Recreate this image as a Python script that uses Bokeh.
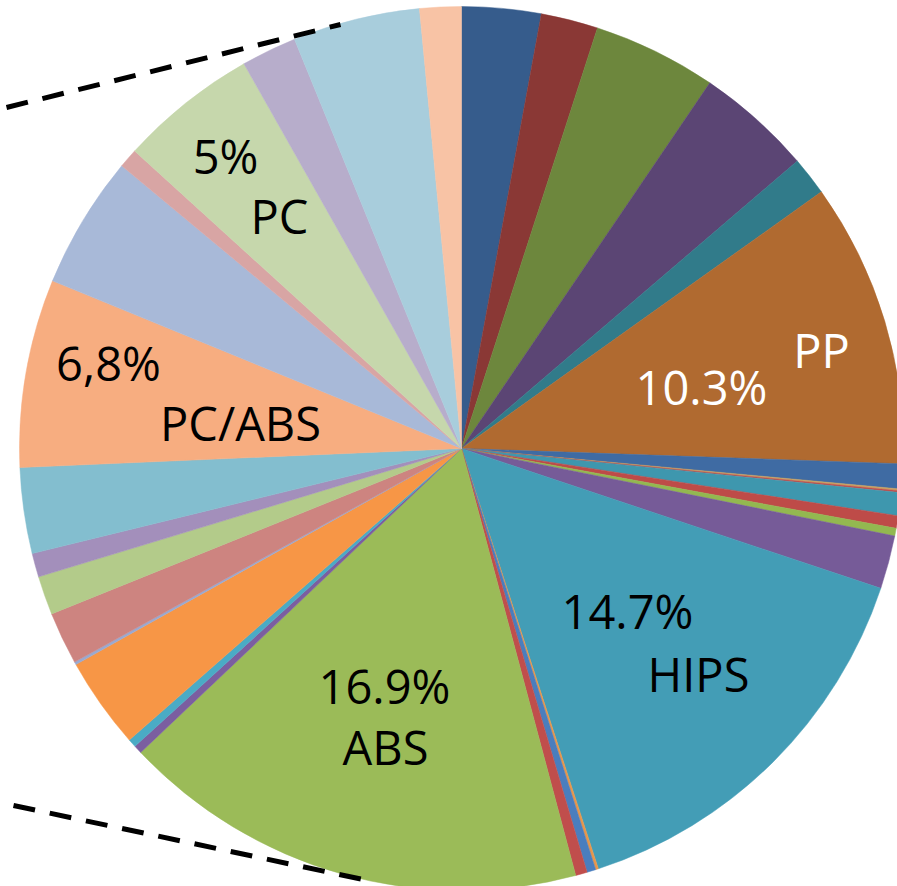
import numpy as np
from bokeh.plotting import figure
from bokeh.models import Range1d, ColumnDataSource
from bokeh.core.properties import value
from bokeh.embed import file_html
from bokeh.resources import INLINE

# ---- data (percent shares, clockwise from 12 o'clock) ----
names = ["s1", "s2", "s3", "s4", "s5", "PP", "s7", "s8", "s9", "s10", "s11", "s12",
         "s13", "HIPS", "s15", "s16", "s17", "ABS", "s19", "s20", "s21", "s22",
         "s23", "s24", "s25", "s26", "PC/ABS", "s28", "s29", "PC", "s31", "s32", "s33"]
shares = [2.86, 2.06, 4.47, 4.19, 1.39, 10.3, 0.9, 0.07, 0.06, 0.83, 0.45, 0.28,
          1.93, 14.7, 0.1, 0.32, 0.42, 16.9, 0.3, 0.3, 3.3, 0.1,
          1.9, 1.4, 0.86, 3.1, 6.8, 4.8, 0.7, 5.0, 2.0, 4.6, 1.5]
colors = ["#365C8C", "#8A3835", "#6D873D", "#5B4574", "#317B8A", "#B06A30",
          "#3F6BA3", "#C8A060", "#BF4F4C", "#3E97AE", "#BE4B48", "#93B850",
          "#765B98", "#439DB6", "#E8964B", "#4A7EBE", "#C04E4C", "#9BBB58",
          "#7B5EA0", "#4AABC5", "#F79646", "#9AA9D0", "#CD8480", "#B3CB8A",
          "#A38FBB", "#83BECF", "#F7AD80", "#A8B9D8", "#D8A5A4", "#C6D7AC",
          "#B7ADCB", "#A8CDDC", "#F8C3A5"]

# labels: (text, colour)
label_texts = ["10.3%", "PP", "14.7%", "HIPS", "16.9%", "ABS", "6,8%", "PC/ABS", "5%", "PC"]
label_colors = ["white", "white", "black", "black", "black", "black", "black", "black", "black", "black"]

# ---- layout (image pixel coordinates, label = cap-height centre) ----
W, H = 897, 886
CX, CY, R = 461, 448, 442
label_pos = [(701, 386), (821, 349), (627, 610), (698, 673), (384, 685),
             (385, 746), (108, 362), (240, 422), (225, 155), (279, 215)]
dash_top = [(6, 107), (340, 24)]
dash_bottom = [(13, 805), (372, 881)]


def fy(y):
    return H - y


total = float(sum(shares))
frac = np.array(shares) / total
cum_end = np.cumsum(frac)
cum_start = cum_end - frac
start_angle = np.pi / 2 - cum_end * 2 * np.pi
end_angle = np.pi / 2 - cum_start * 2 * np.pi

src = ColumnDataSource(dict(name=names, start=start_angle, end=end_angle, color=colors))

p = figure(width=W, height=H, x_range=Range1d(0, W), y_range=Range1d(0, H),
           output_backend="svg", toolbar_location=None, min_border=0)
p.axis.visible = False
p.grid.visible = False
p.outline_line_color = None
p.background_fill_color = "white"

p.wedge(x=CX, y=fy(CY), radius=R, start_angle="start", end_angle="end",
        fill_color="color", line_color="color", line_width=0.5, source=src)

for seg in (dash_top, dash_bottom):
    p.line([seg[0][0], seg[1][0]], [fy(seg[0][1]), fy(seg[1][1])],
           line_color="black", line_width=5, line_dash="22 15", line_cap="butt")

lsrc = ColumnDataSource(dict(x=[q[0] for q in label_pos], y=[fy(q[1]) for q in label_pos],
                             text=label_texts, color=label_colors))
p.text(x="x", y="y", text="text", text_color="color", source=lsrc,
       text_font=value("Open Sans"), text_font_size="47px",
       text_align="center", text_baseline="middle")

open("out.html", "w").write(file_html(p, INLINE))
